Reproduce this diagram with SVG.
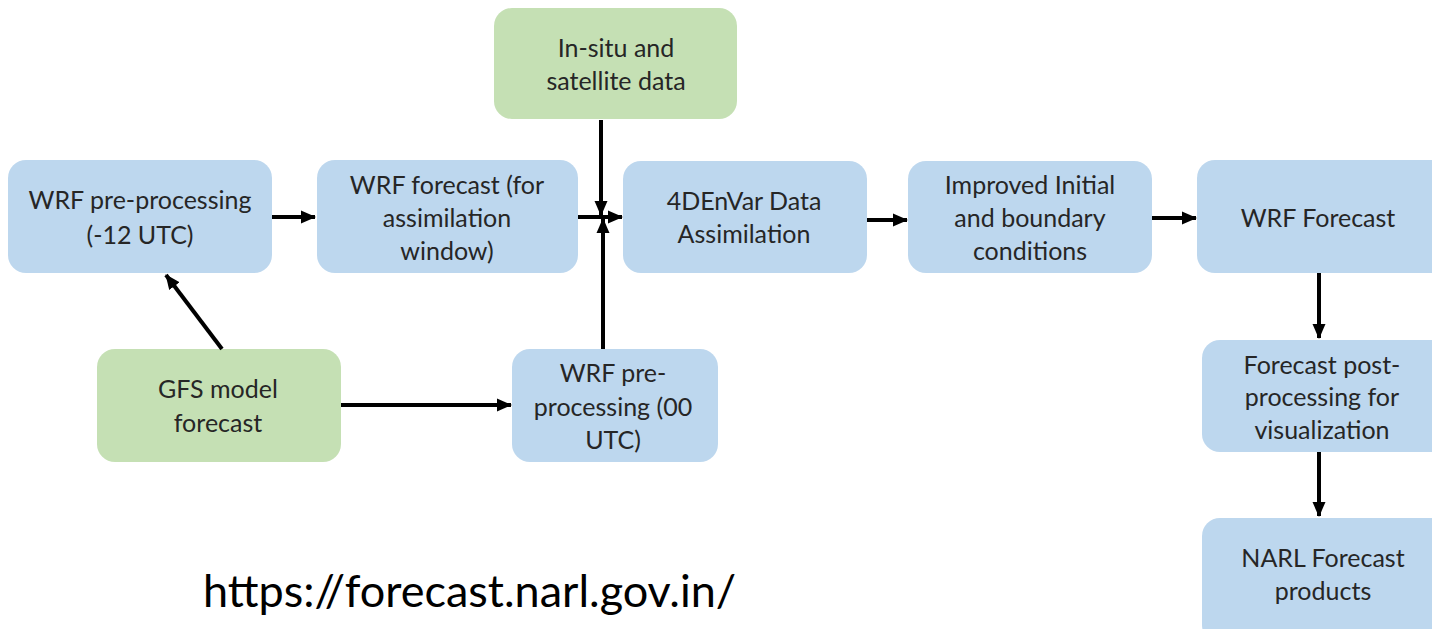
<svg xmlns="http://www.w3.org/2000/svg" width="1432" height="629" viewBox="0 0 1432 629">
<style>
.blue{fill:#BDD7EE}
.green{fill:#C5E0B4}
.t{font-family:Lato,"Open Sans",sans-serif;font-size:25px;fill:#262626;text-anchor:middle}
.c{stroke:#000;stroke-width:4;fill:none;marker-end:url(#ah)}
</style>
<defs>
<marker id="ah" markerUnits="userSpaceOnUse" markerWidth="16" markerHeight="16" viewBox="0 0 16 16" refX="14" refY="8" orient="auto">
<path d="M0,1.5 L15,8 L0,14.5 Z" fill="#000"/>
</marker>
</defs>
<rect width="1432" height="629" fill="#fff"/>
<g id="n1"><rect class="blue" x="8" y="160" width="264" height="113" rx="18"/><text class="t" x="140" y="209">WRF pre-processing</text><text class="t" x="140" y="244">(-12 UTC)</text></g>
<g id="n2"><rect class="blue" x="317" y="160" width="261" height="113" rx="18"/><text class="t" x="447" y="194">WRF forecast (for</text><text class="t" x="447" y="227">assimilation</text><text class="t" x="447" y="260">window)</text></g>
<g id="n3"><rect class="green" x="494" y="8" width="243" height="111" rx="18"/><text class="t" x="616" y="57">In-situ and</text><text class="t" x="616" y="90">satellite data</text></g>
<g id="n4"><rect class="blue" x="623" y="161" width="244" height="112" rx="18"/><text class="t" x="744" y="210">4DEnVar Data</text><text class="t" x="744" y="243">Assimilation</text></g>
<g id="n5"><rect class="blue" x="908" y="161" width="244" height="112" rx="18"/><text class="t" x="1030" y="194">Improved Initial</text><text class="t" x="1030" y="227">and boundary</text><text class="t" x="1030" y="260">conditions</text></g>
<g id="n6"><rect class="blue" x="1197" y="160" width="260" height="113" rx="18"/><text class="t" x="1318" y="227">WRF Forecast</text></g>
<g id="n7"><rect class="blue" x="1202" y="340" width="250" height="112" rx="18"/><text class="t" x="1322" y="374">Forecast post-</text><text class="t" x="1322" y="406">processing for</text><text class="t" x="1322" y="439">visualization</text></g>
<g id="n8"><rect class="blue" x="1202" y="518" width="250" height="125" rx="18"/><text class="t" x="1323" y="567">NARL Forecast</text><text class="t" x="1323" y="600">products</text></g>
<g id="n9"><rect class="green" x="97" y="349" width="244" height="113" rx="18"/><text class="t" x="218" y="398">GFS model</text><text class="t" x="218" y="432">forecast</text></g>
<g id="n10"><rect class="blue" x="512" y="349" width="206" height="113" rx="18"/><text class="t" x="613" y="382">WRF pre-</text><text class="t" x="613" y="416">processing (00</text><text class="t" x="613" y="449">UTC)</text></g>
<g id="connectors">
<line class="c" x1="272" y1="217" x2="315" y2="217"/>
<line class="c" x1="578" y1="217" x2="622" y2="217"/>
<line class="c" x1="601" y1="120" x2="601" y2="215"/>
<line class="c" x1="603" y1="349" x2="603" y2="219"/>
<line class="c" x1="867" y1="220" x2="907" y2="220"/>
<line class="c" x1="1152" y1="218" x2="1196" y2="218"/>
<line class="c" x1="1319" y1="273" x2="1319" y2="338"/>
<line class="c" x1="1319" y1="452" x2="1319" y2="516"/>
<line class="c" x1="222" y1="349" x2="166" y2="275"/>
<line class="c" x1="341" y1="405" x2="511" y2="405"/>
</g>
<text x="203" y="607" style="font-family:Lato,'Open Sans',sans-serif;font-size:45px;fill:#000">https://forecast.narl.gov.in/</text>
</svg>
